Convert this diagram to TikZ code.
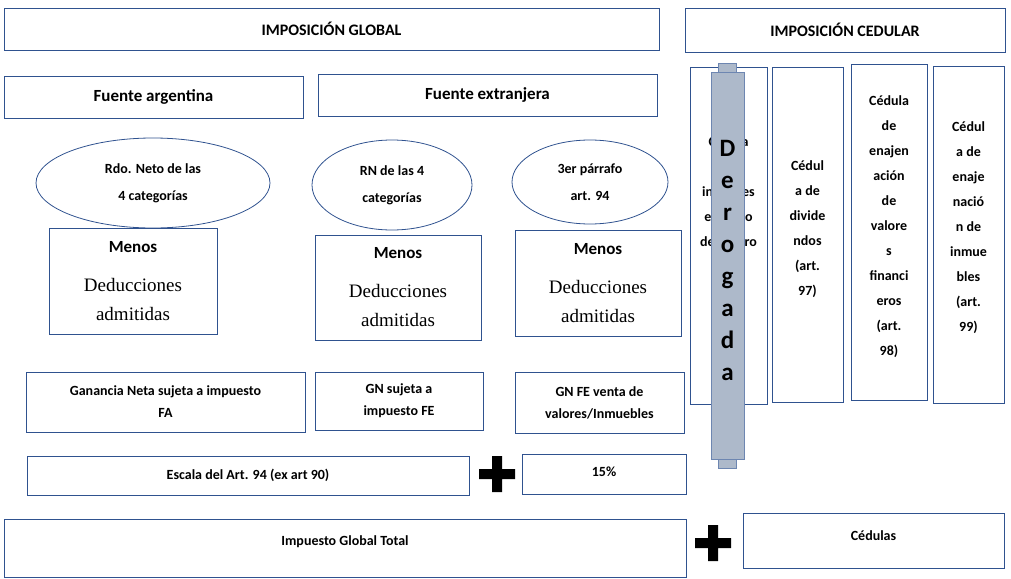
\documentclass[tikz,border=0pt]{standalone}
\usepackage{fontspec}
\setmainfont{Carlito}
\newfontfamily\serifa{Liberation Serif}
\usetikzlibrary{shapes.geometric}
\definecolor{lineblue}{RGB}{47,82,143}
\definecolor{bargray}{RGB}{173,185,202}
\tikzset{
  box/.style={draw=lineblue, line width=0.8pt, inner sep=2pt, align=center, font=\bfseries\fontsize{14}{22}\selectfont},
  oval/.style={ellipse, draw=lineblue, line width=0.8pt, align=center, font=\bfseries\fontsize{14}{27}\selectfont},
  cedbox/.style={draw=lineblue, line width=0.8pt, minimum width=#1, anchor=north},
  cedtext/.style={anchor=north, inner sep=0pt, align=center, font=\bfseries\fontsize{14}{25}\selectfont},
  menos/.style={box, font=\fontsize{17}{29}\selectfont},
}
\newcommand{\plussign}[1]{\fill #1 +(-18,-5) rectangle +(18,5) #1 +(-5,-18) rectangle +(5,18);}
\newcommand{\menostxt}{\textbf{Menos}\\[10pt]{\serifa\fontsize{19}{29}\selectfont Deducciones}\\{\serifa\fontsize{19}{29}\selectfont admitidas}}

\begin{document}
\begin{tikzpicture}[x=1pt,y=-1pt]
        \useasboundingbox (0,0) rectangle (1011,578);

        \node[box, minimum width=655, minimum height=42, font=\bfseries\fontsize{16}{19}\selectfont] (global) at (331.5,29) {IMPOSICIÓN GLOBAL};
        \node[box, minimum width=320, minimum height=44, font=\bfseries\fontsize{16}{19}\selectfont] (cedular) at (845,30) {IMPOSICIÓN CEDULAR};

        \node[box, minimum width=299, minimum height=42, font=\bfseries\fontsize{17}{20}\selectfont] (fa) at (153.5,97) {Fuente argentina};
        \node[box, minimum width=339, minimum height=42, font=\bfseries\fontsize{17}{20}\selectfont] (fe) at (487.5,95) {Fuente extranjera};

        \node[oval, minimum width=234, minimum height=90] (rdo) at (153,183) {Rdo. Neto de las\\4 categorías};
        \node[oval, minimum width=160, minimum height=90] (rn) at (392,185) {RN de las 4\\categorías};
        \node[oval, minimum width=156, minimum height=84] (par) at (590,182) {3er párrafo\\art. 94};

        \node[menos, minimum width=168, minimum height=106] (menosa) at (133,281) {\menostxt};
        \node[menos, minimum width=166, minimum height=105] (menosb) at (398,287.5) {\menostxt};
        \node[menos, minimum width=166, minimum height=106] (menosc) at (598,283) {\menostxt};

        \node[box, minimum width=279, minimum height=60] (gna) at (165.5,402) {Ganancia Neta sujeta a impuesto\\FA};
        \node[box, minimum width=168, minimum height=58] (gnb) at (399,401) {GN sujeta a\\impuesto FE};
        \node[box, minimum width=169, minimum height=61] (gnc) at (599.5,402.5) {GN FE venta de\\valores/Inmuebles};

        \node[box, minimum width=442, minimum height=39] (escala) at (248,475.5) {Escala del Art. 94 (ex art 90)};
        \plussign{(497,474)}
        \node[box, minimum width=164, minimum height=40] (tasa) at (604,474) {};
        \node[font=\bfseries\fontsize{14}{22}\selectfont] (tasat) at (604,472) {15\%};

        \node[box, minimum width=682, minimum height=58] (total) at (345,548) {};
        \node[font=\bfseries\fontsize{14}{22}\selectfont] (totalt) at (345,542) {Impuesto Global Total};
        \plussign{(713,543)}
        \node[box, minimum width=261, minimum height=55] (cedulas) at (873.5,540.5) {};
        \node[font=\bfseries\fontsize{14}{22}\selectfont] (cedulast) at (873.5,536) {Cédulas};

        % cedulas
        \node[cedbox=77, minimum height=337] (ceda) at (728.5,67) {};
        \node[cedtext] (cedat) at (728.5,136) {Cédula\\\mbox{}\\intereses\\en plazo\\de ahorro};
        \node[cedbox=71, minimum height=335] (cedb) at (807.5,67) {};
        \node[cedtext] (cedbt) at (807.5,160) {Cédul\\a de\\divide\\ndos\\(art.\\97)};
        \node[cedbox=76, minimum height=336] (cedc) at (889,64) {};
        \node[cedtext] (cedct) at (889,95) {Cédula\\de\\enajen\\ación\\de\\valore\\s\\financi\\eros\\(art.\\98)};
        \node[cedbox=71, minimum height=337] (cedd) at (968.5,66) {};
        \node[cedtext] (cedst) at (968.5,121) {Cédul\\a de\\enaje\\nació\\n de\\inmue\\bles\\(art.\\99)};

        % derogada
        \filldraw[fill=bargray, draw=lineblue!70, line width=0.6pt] (718,63) rectangle (736,72);
        \filldraw[fill=bargray, draw=lineblue!70, line width=0.6pt] (718,459) rectangle (736,468);
        \node[fill=bargray, draw=lineblue!70, line width=0.6pt, minimum width=33, minimum height=387, inner sep=0pt] (derogada) at (727.5,265.5) {};
        \node[anchor=north, inner sep=0pt, align=center, font=\bfseries\fontsize{25}{32}\selectfont] (derogadat) at (727.5,140) {D\\e\\r\\o\\g\\a\\d\\a};
    \end{tikzpicture}
\end{document}
